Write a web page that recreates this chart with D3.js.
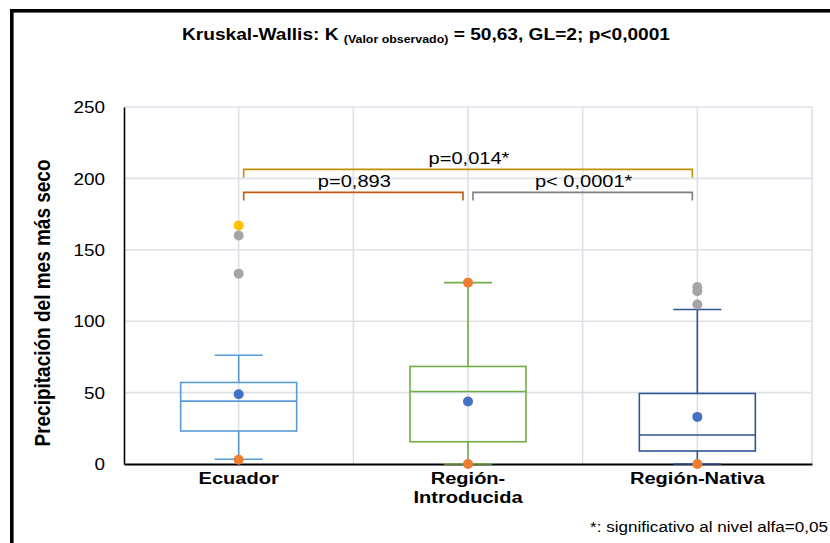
<!DOCTYPE html>
<html>
<head>
<meta charset="utf-8">
<script src="https://cdn.jsdelivr.net/npm/d3@7"></script>
<style>
  html, body { margin: 0; padding: 0; background: #fff; }
  svg { display: block; font-family: Arial, "Liberation Sans", sans-serif; }
</style>
</head>
<body>
<svg id="chart" width="830" height="543"></svg>
<script>
// Precipitation of the driest month by region (box plots)
const categories = ["Ecuador", "Región-Introducida", "Región-Nativa"];
const categoryLines = [["Ecuador"], ["Región-", "Introducida"], ["Región-Nativa"]];
const whiskerLow = [3.3, 0, 0];
const q1 = [23.1, 15.6, 9.1];
const median = [44.0, 50.8, 20.3];
const q3 = [57.1, 68.3, 49.4];
const whiskerHigh = [76.2, 127, 108.2];
const means = [48.9, 43.8, 33.0];
const minima = [3.0, 0, 0];
const maxima = [167, 127, null];
const outliers = [[160, 133.3], [], [124, 121, 111.7]];
const yTicks = [0, 50, 100, 150, 200, 250];

// Pairwise comparisons
const pairFrom = [0, 0, 1];
const pairTo = [2, 1, 2];
const pairLevel = [206.3, 190.2, 190.2];
const pairLabels = ["p=0,014*", "p=0,893", "p< 0,0001*"];

const titleMain = "Kruskal-Wallis: K ";
const titleSub = "(Valor observado)";
const titleRest = " = 50,63, GL=2; p<0,0001";
const yLabel = "Precipitación del mes más seco";
const footnote = "*: significativo al nivel alfa=0,05";

const boxColors = ["#5B9BD5", "#70AD47", "#2F5597"];
const maxColors = ["#FFC000", "#ED7D31", "#ED7D31"];
const pairColors = ["#BF9000", "#C55A11", "#7F7F7F"];
const SX = 1.18; // horizontal text stretch

const svg = d3.select("#chart");

// outer frame
svg.append("rect").attr("x", 11.8).attr("y", 10.8).attr("width", 900).attr("height", 700)
  .attr("fill", "none").attr("stroke", "#000").attr("stroke-width", 3.6);

const x = d3.scaleBand().domain(categories).range([124, 812]).padding(0);
const y = d3.scaleLinear().domain([0, 250]).range([464, 107]);
const bw = x.bandwidth();
const cx = i => x(categories[i]) + bw / 2;

// grid
const g = svg.append("g");
g.selectAll("line.h").data(yTicks.filter(d => d > 0)).join("line")
  .attr("x1", 124).attr("x2", 812).attr("y1", d => y(d)).attr("y2", d => y(d))
  .attr("stroke", "#DDE1E8").attr("stroke-width", 1.6);
const vx = [];
categories.forEach((c, i) => { vx.push(x(c) + bw / 2); vx.push(x(c) + bw); });
g.selectAll("line.v").data(vx).join("line")
  .attr("x1", d => d).attr("x2", d => d).attr("y1", y(250)).attr("y2", y(0))
  .attr("stroke", "#DDE1E8").attr("stroke-width", 1.6);

// y axis
const yAxis = svg.append("g").attr("transform", "translate(124,0)")
  .call(d3.axisLeft(y).tickValues(yTicks).tickSize(0).tickSizeOuter(0).tickFormat(d3.format("d")));
yAxis.select(".domain").attr("stroke", "#000").attr("stroke-width", 1.6);
yAxis.selectAll(".tick text")
  .attr("x", 0).attr("dy", "0.36em").attr("font-size", 16).attr("fill", "#000")
  .attr("font-family", "Arial, 'Liberation Sans', sans-serif")
  .attr("transform", `translate(-19,0) scale(${SX},1)`);

// x axis
const xAxis = svg.append("g").attr("transform", "translate(0,464)")
  .call(d3.axisBottom(x).tickSize(0).tickSizeOuter(0));
xAxis.select(".domain").attr("stroke", "#000").attr("stroke-width", 1.8);
xAxis.selectAll(".tick text").each(function(d, i) {
  const t = d3.select(this);
  t.text(null).attr("y", 0).attr("dy", null)
    .attr("font-size", 17).attr("font-weight", "bold").attr("fill", "#000")
    .attr("font-family", "Arial, 'Liberation Sans', sans-serif")
    .attr("transform", `translate(0,20) scale(${SX},1)`);
  categoryLines[i].forEach((line, k) => {
    t.append("tspan").attr("x", 0).attr("y", k * 19).text(line);
  });
});

// boxes
categories.forEach((c, i) => {
  const col = boxColors[i];
  const c0 = cx(i);
  const half = 58, cap = 24;
  const bg = svg.append("g");
  bg.append("line").attr("x1", c0).attr("x2", c0).attr("y1", y(q3[i])).attr("y2", y(whiskerHigh[i]))
    .attr("stroke", col).attr("stroke-width", 1.6);
  bg.append("line").attr("x1", c0).attr("x2", c0).attr("y1", y(q1[i])).attr("y2", y(whiskerLow[i]))
    .attr("stroke", col).attr("stroke-width", 1.6);
  [whiskerHigh[i], whiskerLow[i]].forEach(v => {
    bg.append("line").attr("x1", c0 - cap).attr("x2", c0 + cap).attr("y1", y(v)).attr("y2", y(v))
      .attr("stroke", col).attr("stroke-width", 1.6);
  });
  bg.append("rect").attr("x", c0 - half).attr("width", 2 * half)
    .attr("y", y(q3[i])).attr("height", y(q1[i]) - y(q3[i]))
    .attr("fill", "none").attr("stroke", col).attr("stroke-width", 1.6);
  bg.append("line").attr("x1", c0 - half).attr("x2", c0 + half).attr("y1", y(median[i])).attr("y2", y(median[i]))
    .attr("stroke", col).attr("stroke-width", 1.6);

  outliers[i].forEach(v => {
    bg.append("circle").attr("cx", c0).attr("cy", y(v)).attr("r", 5).attr("fill", "#A5A5A5");
  });
  if (maxima[i] !== null) {
    bg.append("circle").attr("cx", c0).attr("cy", y(maxima[i])).attr("r", 5).attr("fill", maxColors[i]);
  }
  bg.append("circle").attr("cx", c0).attr("cy", y(minima[i])).attr("r", 5).attr("fill", "#ED7D31");
  bg.append("circle").attr("cx", c0).attr("cy", y(means[i])).attr("r", 5).attr("fill", "#4472C4");
});

// comparison brackets
pairLabels.forEach((lab, k) => {
  const x1 = cx(pairFrom[k]) + 5, x2 = cx(pairTo[k]) - 5;
  const yy = y(pairLevel[k]), yd = yy + 8;
  svg.append("path")
    .attr("d", `M${x1},${yd}V${yy}H${x2}V${yd}`)
    .attr("fill", "none").attr("stroke", pairColors[k]).attr("stroke-width", 1.6);
  svg.append("text")
    .attr("transform", `translate(${(x1 + x2) / 2 + 1},${yy - 5}) scale(${SX},1)`)
    .attr("text-anchor", "middle").attr("font-size", 17).attr("fill", "#000")
    .text(lab);
});

// title
const title = svg.append("text").attr("x", 182).attr("y", 40)
  .attr("font-family", "'Liberation Sans Narrow', 'Arial Narrow', 'Liberation Sans', Arial, sans-serif")
  .attr("font-weight", "bold").attr("font-size", 17).attr("fill", "#000")
  .attr("textLength", 488).attr("lengthAdjust", "spacingAndGlyphs");
title.append("tspan").text(titleMain);
title.append("tspan").attr("font-size", 11).attr("dy", 3).text(titleSub);
title.append("tspan").attr("dy", -3).text(titleRest);

// y label
svg.append("text")
  .attr("transform", `translate(50,303) scale(${SX},1) rotate(-90)`)
  .attr("text-anchor", "middle").attr("font-size", 19).attr("font-weight", "bold").attr("fill", "#000")
  .text(yLabel);

// footnote
svg.append("text").attr("x", 590).attr("y", 532)
  .attr("font-size", 14).attr("fill", "#000")
  .attr("textLength", 238).attr("lengthAdjust", "spacingAndGlyphs")
  .text(footnote);
</script>
</body>
</html>
